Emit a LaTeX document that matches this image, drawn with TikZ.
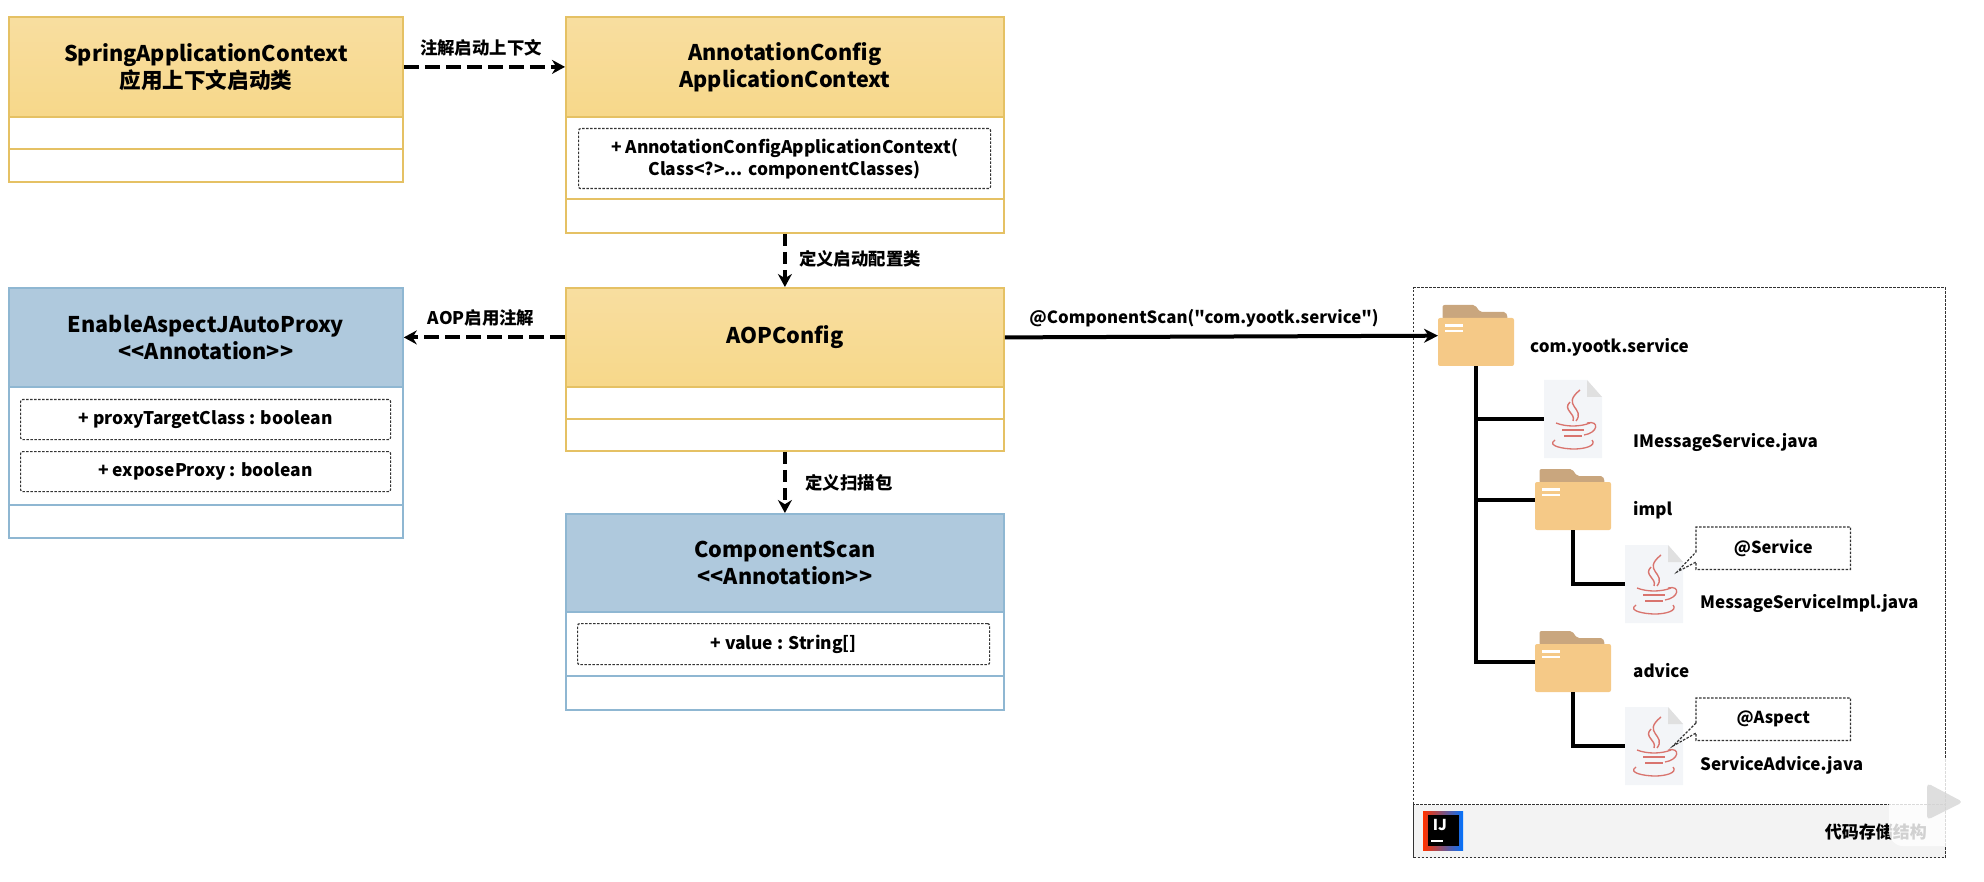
\documentclass[tikz,border=0pt]{standalone}
\usepackage{fontspec}
\setmainfont{Noto Sans CJK SC}
\newfontfamily\codefont{Noto Sans CJK SC}
\usetikzlibrary{arrows.meta}

\definecolor{goldedge}{RGB}{229,193,100}
\definecolor{goldtop}{RGB}{248,222,160}
\definecolor{goldend}{RGB}{247,216,138}
\definecolor{blueedge}{RGB}{143,183,210}
\definecolor{bluehead}{RGB}{175,201,221}
\definecolor{folderbody}{RGB}{245,201,135}
\definecolor{foldertab}{RGB}{201,166,126}
\definecolor{javared}{RGB}{217,116,110}
\definecolor{pagegrey}{RGB}{243,245,248}
\definecolor{footgrey}{RGB}{243,243,243}

\tikzset{
  goldhead/.style={draw=goldedge,line width=1.8pt,top color=goldtop,bottom color=goldend,anchor=north west,align=center,inner sep=0pt,font=\fontsize{21.6}{27}\selectfont\bfseries},
  bluehead/.style={draw=blueedge,line width=1.8pt,fill=bluehead,anchor=north west,align=center,inner sep=0pt,font=\fontsize{21.6}{27}\selectfont\bfseries},
  goldpart/.style={draw=goldedge,line width=1.8pt,fill=white,anchor=north west,inner sep=0pt},
  bluepart/.style={draw=blueedge,line width=1.8pt,fill=white,anchor=north west,inner sep=0pt},
  attrbox/.style={draw=black!80,line width=1.2pt,dash pattern=on 2.5pt off 1.5pt,rounded corners=2pt,anchor=north west,align=center,inner sep=0pt,font=\fontsize{17.4}{22}\selectfont\bfseries},
  linktext/.style={inner sep=0pt,font=\fontsize{17.4}{20}\selectfont\bfseries},
  treetext/.style={anchor=west,inner sep=0pt,font=\fontsize{17}{20}\selectfont\bfseries},
  dashlink/.style={line width=4.2pt,dash pattern=on 15pt off 6pt,-{Stealth[length=13pt,width=14pt]}},
  droplink/.style={line width=4.2pt,dash pattern=on 12pt off 6pt,-{Stealth[length=13pt,width=14pt]}},
  solidlink/.style={line width=4pt,-{Stealth[length=14pt,width=14pt]}},
  treeline/.style={line width=4.4pt},
  notebox/.style={anchor=north west,inner sep=0pt,font=\fontsize{16.5}{20}\selectfont\bfseries},
  notedash/.style={draw=black!80,line width=1.2pt,dash pattern=on 2.5pt off 1.5pt},
  every pic/.style={yscale=-1},
  folderpic/.pic={
    \node (-box) [minimum width=76pt,minimum height=61pt,inner sep=0pt,anchor=north west] at (0,0) {};
    \fill [foldertab,rounded corners=2pt] (4.5,14) -- (4.5,0) -- (37,0) -- (42,7) -- (68,7) -- (70,14) -- cycle;
    \fill [folderbody,rounded corners=2pt] (0,13) rectangle (76,61);
    \draw [white,line width=2.2pt] (7,20.5) -- (25,20.5) (7,26) -- (25,26);
  },
  javapic/.pic={
    \node (-box) [minimum width=58pt,minimum height=78pt,inner sep=0pt,anchor=north west] at (0,0) {};
    \fill [pagegrey] (0,0) -- (43,0) -- (58,17) -- (58,78) -- (0,78) -- cycle;
    \fill [black!12] (43,0) -- (58,17) -- (43,17) -- cycle;
    \draw [javared,line width=1.4pt] (36,10) .. controls (16,26) and (42,28) .. (32,41);
    \draw [javared,line width=1.4pt] (26,22) .. controls (18,30) and (32,33) .. (29,41);
    \draw [javared,line width=1.3pt] (12,43) .. controls (22,47) and (36,47) .. (46,43);
    \draw [javared,line width=2.2pt] (18,50) -- (40,50) (20,56) -- (38,56);
    \draw [javared,line width=1.3pt] (43,43) .. controls (56,40) and (54,53) .. (40,55);
    \draw [javared,line width=1.3pt] (11,60) .. controls (2,66) and (20,69) .. (30,69) .. controls (40,69) and (53,66) .. (48,60);
  },
}

\begin{document}
\begin{tikzpicture}[x=1pt,y=1pt,yscale=-1,xscale=1]
\useasboundingbox (0,0) rectangle (1984,882);

%Class: SpringApplicationContext
\node (ctxbody) [goldpart,minimum width=394pt,minimum height=65pt] at (8,116) {};
\draw [draw=goldedge,line width=1.8pt] (ctxbody.west) -- (ctxbody.east);
\node (ctxhead) [goldhead,minimum width=394pt,minimum height=100pt] at (8,16) {SpringApplicationContext\\应用上下文启动类};

%Class: AnnotationConfigApplicationContext
\node (annobody) [goldpart,minimum width=438pt,minimum height=116pt] at (565,116) {};
\draw [draw=goldedge,line width=1.8pt] (565,199) -- (1003,199);
\node (annohead) [goldhead,minimum width=438pt,minimum height=100pt] at (565,16) {AnnotationConfig\\ApplicationContext};
\node (annoattr) [attrbox,minimum width=412pt,minimum height=60pt] at (578,128) {+ AnnotationConfigApplicationContext(\\Class<?>... componentClasses)};

%Class: AOPConfig
\node (aopbody) [goldpart,minimum width=438pt,minimum height=64pt] at (565,386) {};
\draw [draw=goldedge,line width=1.8pt] (aopbody.west) -- (aopbody.east);
\node (aophead) [goldhead,minimum width=438pt,minimum height=99pt] at (565,287) {AOPConfig};

%Class: EnableAspectJAutoProxy
\node (proxybody) [bluepart,minimum width=394pt,minimum height=151pt] at (8,386) {};
\draw [draw=blueedge,line width=1.8pt] (8,505) -- (402,505);
\node (proxyhead) [bluehead,minimum width=394pt,minimum height=99pt] at (8,287) {EnableAspectJAutoProxy\\<{}<Annotation>{}>};
\node (proxyattra) [attrbox,minimum width=370pt,minimum height=40pt] at (20,399) {+ proxyTargetClass : boolean};
\node (proxyattrb) [attrbox,minimum width=370pt,minimum height=40pt] at (20,451) {+ exposeProxy : boolean};

%Class: ComponentScan
\node (scanbody) [bluepart,minimum width=438pt,minimum height=98pt] at (565,611) {};
\draw [draw=blueedge,line width=1.8pt] (565,676) -- (1003,676);
\node (scanhead) [bluehead,minimum width=438pt,minimum height=98pt] at (565,513) {ComponentScan\\<{}<Annotation>{}>};
\node (scanattr) [attrbox,minimum width=412pt,minimum height=41pt] at (577,623) {+ value : String[]};

%Frame: code tree
\node (codeframe) [draw=black!80,line width=1.4pt,dash pattern=on 2.5pt off 1.5pt,minimum width=532pt,minimum height=570pt,anchor=north west,inner sep=0pt] at (1413,287) {};
\node (codefoot) [draw=black!80,fill=footgrey,line width=1.4pt,dash pattern=on 2.5pt off 1.5pt,minimum width=532pt,minimum height=53pt,anchor=north west,inner sep=0pt] at (1413,804) {};

%Tree: folders and files
\pic (dirroot) at (1438,305) {folderpic};
\pic (filemsg) at (1544,380) {javapic};
\pic (dirimpl) at (1535,469) {folderpic};
\pic (fileimpl) at (1625,545) {javapic};
\pic (diradvice) at (1535,631) {folderpic};
\pic (fileadvice) at (1625,707) {javapic};

%Tree: lines
\draw [treeline] (dirroot-box.south) |- (filemsg-box.west);
\draw [treeline] (dirroot-box.south) |- (dirimpl-box.west);
\draw [treeline] (dirroot-box.south) |- (diradvice-box.west);
\draw [treeline] (dirimpl-box.south) |- (fileimpl-box.west);
\draw [treeline] (diradvice-box.south) |- (fileadvice-box.west);

%Notes: annotation callouts
\node (noteservice) [notebox,minimum width=154pt,minimum height=42pt] at (1696,527) {@Service};
\coordinate (tipservice) at (1677,572);
\draw [notedash] (1696,552) -- (noteservice.north west) -- (noteservice.north east) -- (noteservice.south east) -- (noteservice.south west) -- (1696,562) -- (tipservice) -- cycle;
\node (noteaspect) [notebox,minimum width=154pt,minimum height=42pt] at (1696,698) {@Aspect};
\coordinate (tipaspect) at (1673,746);
\draw [notedash] (1696,723) -- (noteaspect.north west) -- (noteaspect.north east) -- (noteaspect.south east) -- (noteaspect.south west) -- (1696,733) -- (tipaspect) -- cycle;

%Links between classes
\draw [dashlink] (ctxhead.east) -- (annohead.west);
\draw [droplink] (annobody.south) -- (aophead.north);
\draw [dashlink] (aophead.west) -- (aophead.west -| proxyhead.east);
\draw [droplink] (aopbody.south) -- (scanhead.north);
\draw [solidlink] (aophead.east) -- (dirroot-box.west);

% Text Node
\node (ctxlabel) [linktext] at (481,48) {注解启动上下文};
% Text Node
\node (aoplabel) [linktext] at (860,259) {定义启动配置类};
% Text Node
\node (proxylabel) [linktext] at (481,318) {AOP启用注解};
% Text Node
\node (scanlabel) [linktext] at (849,483) {定义扫描包};
% Text Node
\node (pathlabel) [linktext,font=\fontsize{16.8}{20}\selectfont\bfseries] at (1204,318) {\codefont @ComponentScan("com.yootk.service")};

% Text Node
\node (rootlabel) [treetext] at (1530,347) {com.yootk.service};
% Text Node
\node (msglabel) [treetext] at (1633,442) {IMessageService.java};
% Text Node
\node (impllabel) [treetext] at (1633,510) {impl};
% Text Node
\node (fimpllabel) [treetext] at (1700,603) {MessageServiceImpl.java};
% Text Node
\node (advicelabel) [treetext] at (1633,671) {advice};
% Text Node
\node (fadvicelabel) [treetext] at (1700,765) {ServiceAdvice.java};
% Text Node
\node (footlabel) [treetext,anchor=east] at (1927,832) {代码存储结构};

%Icon: IJ
\node (ijicon) [left color=red!60!orange,right color=blue!55!cyan,minimum width=40pt,minimum height=39pt,anchor=north west,inner sep=0pt] at (1423,811) {};
\node (ijinner) [fill=black,minimum width=31pt,minimum height=31pt,inner sep=0pt] at (ijicon.center) {};
\node (ijtext) [text=white,inner sep=0pt,font=\fontsize{15}{15}\selectfont\bfseries] at (1440,825) {IJ};
\draw [white,line width=1.6pt] (1431,841) -- (1443,841);

%Shape: player mark
\fill [white,opacity=.82,rounded corners=14pt] (1889,758) -- (1932,758) [rounded corners=3pt] -- (1917,749) -- (1921,744) -- (1938,758) -- (1950,758) -- (1965,744) -- (1970,749) -- (1955,758) [rounded corners=14pt] -- (2010,758) -- (2010,846) -- (1889,846) -- cycle;
\fill [black!18,opacity=.7,rounded corners=4pt] (1927,783) -- (1963,802) -- (1927,820) -- cycle;
\end{tikzpicture}
\end{document}
